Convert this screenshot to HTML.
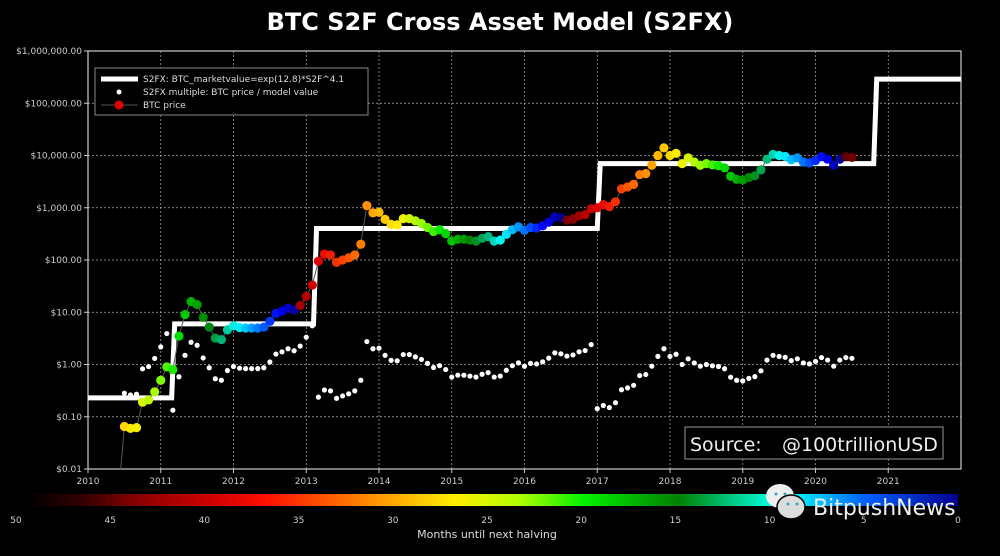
<!DOCTYPE html>
<html><head><meta charset="utf-8"><style>
html,body{margin:0;padding:0;background:#000;}
body{width:1000px;height:552px;overflow:hidden;font-family:"DejaVu Sans","Liberation Sans",sans-serif;}
</style></head><body>
<svg id="c" width="1000" height="552" xmlns="http://www.w3.org/2000/svg">
<defs>
<linearGradient id="cb" x1="0" x2="1" y1="0" y2="0">
<stop offset="0" stop-color="#000"/>
<stop offset="0.06" stop-color="#300000"/>
<stop offset="0.12" stop-color="#8a0000"/>
<stop offset="0.2" stop-color="#d00000"/>
<stop offset="0.26" stop-color="#ff1000"/>
<stop offset="0.33" stop-color="#ff6000"/>
<stop offset="0.4" stop-color="#ffb000"/>
<stop offset="0.46" stop-color="#ffee00"/>
<stop offset="0.53" stop-color="#b0ff00"/>
<stop offset="0.6" stop-color="#00f000"/>
<stop offset="0.7" stop-color="#008000"/>
<stop offset="0.8" stop-color="#00ffe0"/>
<stop offset="0.82" stop-color="#00ffff"/>
<stop offset="0.9" stop-color="#0060ff"/>
<stop offset="1" stop-color="#000090"/>
</linearGradient>
</defs>
<text x="500" y="30" text-anchor="middle" fill="#fff" font-size="24" font-weight="bold">BTC S2F Cross Asset Model (S2FX)</text>
<g id="grid"></g>
<g id="axes"></g>
<g id="series"></g>
<g>
<rect x="95" y="68" width="273" height="47" fill="#000" stroke="#888" stroke-width="1"/>
<line x1="101" y1="79" x2="138" y2="79" stroke="#fff" stroke-width="5"/>
<text x="143" y="82" fill="#ddd" font-size="9">S2FX: BTC_marketvalue=exp(12.8)*S2F^4.1</text>
<circle cx="119" cy="92" r="2.5" fill="#fff"/>
<text x="143" y="95" fill="#ddd" font-size="9">S2FX multiple: BTC price / model value</text>
<line x1="101" y1="105" x2="138" y2="105" stroke="#555" stroke-width="1"/>
<circle cx="119" cy="105" r="4.5" fill="#e00000"/>
<text x="143" y="108" fill="#ddd" font-size="9">BTC price</text>
</g>
<g>
<rect x="685" y="427" width="258" height="32" fill="#000" stroke="#999" stroke-width="1"/>
<text x="690" y="451" fill="#eee" font-size="19">Source:</text>
<text x="782" y="451" fill="#eee" font-size="19">@100trillionUSD</text>
</g>
<rect x="25" y="494" width="933" height="12" fill="url(#cb)"/>
<g id="cbticks"></g>
<text x="487" y="538" text-anchor="middle" fill="#ddd" font-size="11">Months until next halving</text>
<g>
<ellipse cx="780" cy="496" rx="14" ry="12" fill="#eee"/>
<ellipse cx="791" cy="507" rx="14" ry="12" fill="#ddd" stroke="#000" stroke-width="1.5"/>
<circle cx="776" cy="494" r="1.5" fill="#3ab"/><circle cx="785" cy="494" r="1.5" fill="#3ab"/>
<circle cx="788" cy="504" r="1.5" fill="#3ab"/><circle cx="797" cy="504" r="1.5" fill="#3ab"/>
<text x="813" y="515" fill="#f0f0f0" font-size="22">BitpushNews</text>
</g>
</svg>
<script>
var yearTicks=[2010,2011,2012,2013,2014,2015,2016,2017,2018,2019,2020,2021];
var yTicks=[0.01,0.1,1,10,100,1000,10000,100000,1000000];
var yTickLabels=["$0.01","$0.10","$1.00","$10.00","$100.00","$1,000.00","$10,000.00","$100,000.00","$1,000,000.00"];
var stepYears=[2010,2011.15,2013.1,2017.0,2020.8];
var stepValues=[0.23,6,400,7000,290000];
var halvings=[2012.88,2016.52,2020.36,2024.3];
var startYear=2010.5;
var prices=[0.065,0.06,0.062,0.19,0.21,0.3,
0.5,0.9,0.8,3.5,9,16,14,8,5.2,3.2,3,4.6,
5.5,5.1,5,5,5,5.2,6.7,9.5,10.5,12,11,13.5,
20,33,95,130,125,90,100,110,125,200,1100,800,
820,600,480,470,620,620,560,500,420,350,380,320,
230,250,250,240,230,260,280,230,240,310,380,430,
370,420,410,450,530,670,640,580,610,700,740,960,
1000,1150,1050,1300,2300,2500,2800,4300,4500,6500,10000,14000,
10000,11000,7000,9000,7500,6500,7000,6600,6400,5800,4000,3500,
3400,3800,4100,5300,8500,10500,10000,9600,8300,9000,7500,7200,
8000,9500,8500,6500,8500,9500,9200];
var cbTicks=[50,45,40,35,30,25,20,15,10,5,0];

var NS="http://www.w3.org/2000/svg";
var X0=88,X1=961,Y0=469,Y1=51;
function xs(t){return X0+(t-2010)/(2022-2010)*(X1-X0);}
function ys(v){return Y0-(Math.log10(v)+2)/8*(Y0-Y1);}
function mk(tag,at,par){var e=document.createElementNS(NS,tag);for(var k in at)e.setAttribute(k,at[k]);document.getElementById(par).appendChild(e);return e;}
function model(t){var v=stepValues[0];for(var i=0;i<stepYears.length;i++)if(t>=stepYears[i])v=stepValues[i];return v;}
function monthsTo(t){for(var i=0;i<halvings.length;i++)if(halvings[i]>t)return (halvings[i]-t)*12;return 0;}
var cstops=[[50,[16,0,0]],[45,[128,0,0]],[40,[230,0,0]],[35,[255,90,0]],[30,[255,190,0]],[27,[255,240,0]],[23,[150,255,0]],[20,[0,230,0]],[15,[0,128,0]],[12,[0,190,140]],[10,[0,255,255]],[7,[0,140,255]],[3,[0,0,255]],[0,[0,0,140]]];
function col(m){m=Math.max(0,Math.min(50,m));for(var i=0;i<cstops.length-1;i++){var a=cstops[i],b=cstops[i+1];if(m<=a[0]&&m>=b[0]){var f=(a[0]-m)/(a[0]-b[0]);var c=a[1].map(function(v,j){return Math.round(v+(b[1][j]-v)*f);});return "rgb("+c.join(",")+")";}}return "#000";}

yearTicks.forEach(function(y){
  var x=xs(y);
  var g=mk("line",{x1:x,x2:x,y1:Y1,y2:Y0,stroke:"#aaa","stroke-width":0.7,"stroke-dasharray":"2,2"},"grid");
  
  
  mk("line",{x1:x,x2:x,y1:Y0,y2:Y0+4,stroke:"#ccc"},"axes");
  var t=mk("text",{x:x,y:Y0+15,"text-anchor":"middle",fill:"#ccc","font-size":9},"axes");
  t.textContent=y;
  
  
});
yTicks.forEach(function(v,i){
  var y=ys(v);
  var g=mk("line",{x1:X0,x2:X1,y1:y,y2:y,stroke:"#aaa","stroke-width":0.7,"stroke-dasharray":"2,2"},"grid");
  
  
  mk("line",{x1:X0-4,x2:X0,y1:y,y2:y,stroke:"#ccc"},"axes");
  var t=mk("text",{x:X0-6,y:y+3,"text-anchor":"end",fill:"#ccc","font-size":9},"axes");
  t.textContent=yTickLabels[i];
  
  
});
var fr=mk("rect",{x:X0,y:Y1,width:X1-X0,height:Y0-Y1,fill:"none",stroke:"#ccc","stroke-width":1.2},"axes");



var d="";
for(var i=0;i<stepYears.length;i++){
  var xa=xs(stepYears[i]),xb=xs(i+1<stepYears.length?stepYears[i+1]:2022);
  var yv=ys(stepValues[i]);
  d+=(i==0?"M":"L")+(i==0?xa:xa+3)+","+yv+"L"+xb+","+yv;
}
var ml=mk("path",{d:d,fill:"none",stroke:"#fff","stroke-width":5,"stroke-linejoin":"miter"},"series");



var pd="M"+xs(startYear-0.05)+","+Y0;
prices.forEach(function(p,i){pd+="L"+xs(startYear+i/12)+","+ys(p);});
var pl=mk("path",{d:pd,fill:"none",stroke:"#555","stroke-width":1},"series");



prices.forEach(function(p,i){
  var t=startYear+i/12;
  var c=mk("circle",{cx:xs(t),cy:ys(p/model(t)),r:2.6,fill:"#fff"},"series");
  
  
});
prices.forEach(function(p,i){
  var t=startYear+i/12;
  var c=mk("circle",{cx:xs(t),cy:ys(p),r:4.6,fill:col(monthsTo(t))},"series");
  
  
});
cbTicks.forEach(function(m){
  var x=16+(50-m)/50*942;
  var t=mk("text",{x:x,y:523,"text-anchor":"middle",fill:"#ccc","font-size":9},"cbticks");
  t.textContent=m;
  
  
});
</script>
</body></html>
